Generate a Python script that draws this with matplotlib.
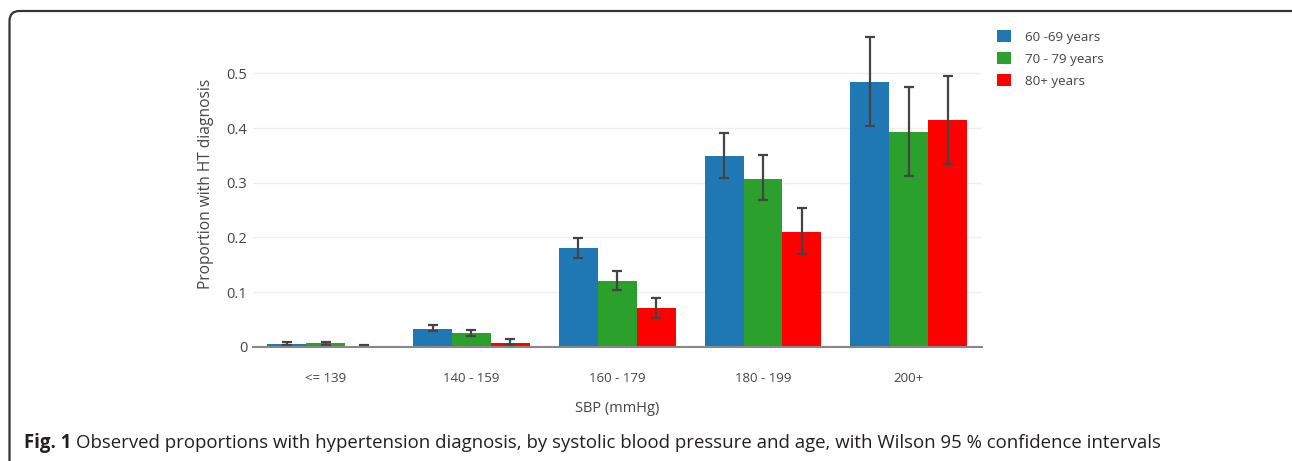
import numpy as np
import matplotlib
matplotlib.use("Agg")
import matplotlib.pyplot as plt
from matplotlib.patches import FancyBboxPatch

# data
categories = ["<= 139", "140 - 159", "160 - 179", "180 - 199", "200+"]
series_names = ["60 -69 years", "70 - 79 years", "80+ years"]
series_colors = ["#1f77b4", "#2ca02c", "#ff0000"]

prop_60 = [0.005, 0.033, 0.180, 0.348, 0.485]
lo_60 = [0.003, 0.028, 0.163, 0.309, 0.404]
hi_60 = [0.008, 0.040, 0.199, 0.391, 0.567]

prop_70 = [0.006, 0.025, 0.120, 0.307, 0.392]
lo_70 = [0.004, 0.020, 0.104, 0.268, 0.313]
hi_70 = [0.009, 0.031, 0.139, 0.351, 0.475]

prop_80 = [0.002, 0.007, 0.070, 0.210, 0.414]
lo_80 = [0.000, 0.0025, 0.053, 0.170, 0.334]
hi_80 = [0.004, 0.014, 0.089, 0.254, 0.496]

yticks = [0, 0.1, 0.2, 0.3, 0.4, 0.5]
ytick_labels = ["0", "0.1", "0.2", "0.3", "0.4", "0.5"]

plt.rcParams["font.family"] = ["Open Sans", "DejaVu Sans"]

W, H = 1292, 461
fig = plt.figure(figsize=(W / 100, H / 100), dpi=100)
ax = fig.add_axes([252.7 / W, 1 - 346.7 / H, 729 / W, (346.7 - 21.4) / H])

x = np.arange(len(categories))
width = 0.8 / 3
series = [(prop_60, lo_60, hi_60), (prop_70, lo_70, hi_70), (prop_80, lo_80, hi_80)]
for i, (vals, lo, hi) in enumerate(series):
    vals = np.array(vals)
    err = np.vstack([vals - np.array(lo), np.array(hi) - vals])
    ax.bar(x + (i - 1) * width, vals, width, color=series_colors[i],
           label=series_names[i], zorder=2)
    ax.errorbar(x + (i - 1) * width, vals, yerr=err, fmt="none", ecolor="#444444",
                elinewidth=1.6, capsize=3.6, capthick=1.6, zorder=3)

ax.set_xlim(-0.5, len(categories) - 0.5)
ax.set_ylim(0, 0.595)
ax.set_yticks(yticks)
ax.set_yticklabels(ytick_labels)
ax.set_xticks(x)
ax.set_xticklabels(categories)
ax.grid(axis="y", color="#eeeeee", linewidth=1, zorder=0)
ax.set_axisbelow(True)
for s in ["top", "right", "left"]:
    ax.spines[s].set_visible(False)
ax.spines["bottom"].set_color("#888888")
ax.spines["bottom"].set_linewidth(1.5)
ax.spines["bottom"].set_zorder(4)
ax.tick_params(axis="both", length=0, colors="#444444")
ax.tick_params(axis="y", labelsize=10.5, pad=4)
ax.tick_params(axis="x", labelsize=9.5, pad=18)
ax.set_ylabel("Proportion with HT diagnosis", fontsize=11.2, color="#444444", labelpad=9)
ax.set_xlabel("SBP (mmHg)", fontsize=10.5, color="#444444", labelpad=12)

ax.legend(loc="upper left", bbox_to_anchor=(985 / W, 1 - 18 / H),
          bbox_transform=fig.transFigure, frameon=False, fontsize=9.6,
          handlelength=1.05, handleheight=1.05, handletextpad=1.05,
          labelspacing=0.62, labelcolor="#444444")

# rounded figure frame
frame = FancyBboxPatch((0.095, -0.3), 13.2, 4.5 + 0.3,
                       boxstyle="round,pad=0,rounding_size=0.1",
                       transform=fig.dpi_scale_trans, fill=False,
                       edgecolor="#333333", linewidth=1.6)
fig.patches.append(frame)

cap_y = 1 - 448 / H
t1 = fig.text(24 / W, cap_y, "Fig. 1", fontsize=13.4, fontweight="bold",
              color="#231f20", va="baseline")
fig.canvas.draw()
bb = t1.get_window_extent()
fig.text((bb.x1 + 5) / W, cap_y,
         "Observed proportions with hypertension diagnosis, by systolic blood pressure and age, "
         "with Wilson 95 % confidence intervals",
         fontsize=13.4, color="#231f20", va="baseline")

fig.savefig("out.png", dpi=100)
